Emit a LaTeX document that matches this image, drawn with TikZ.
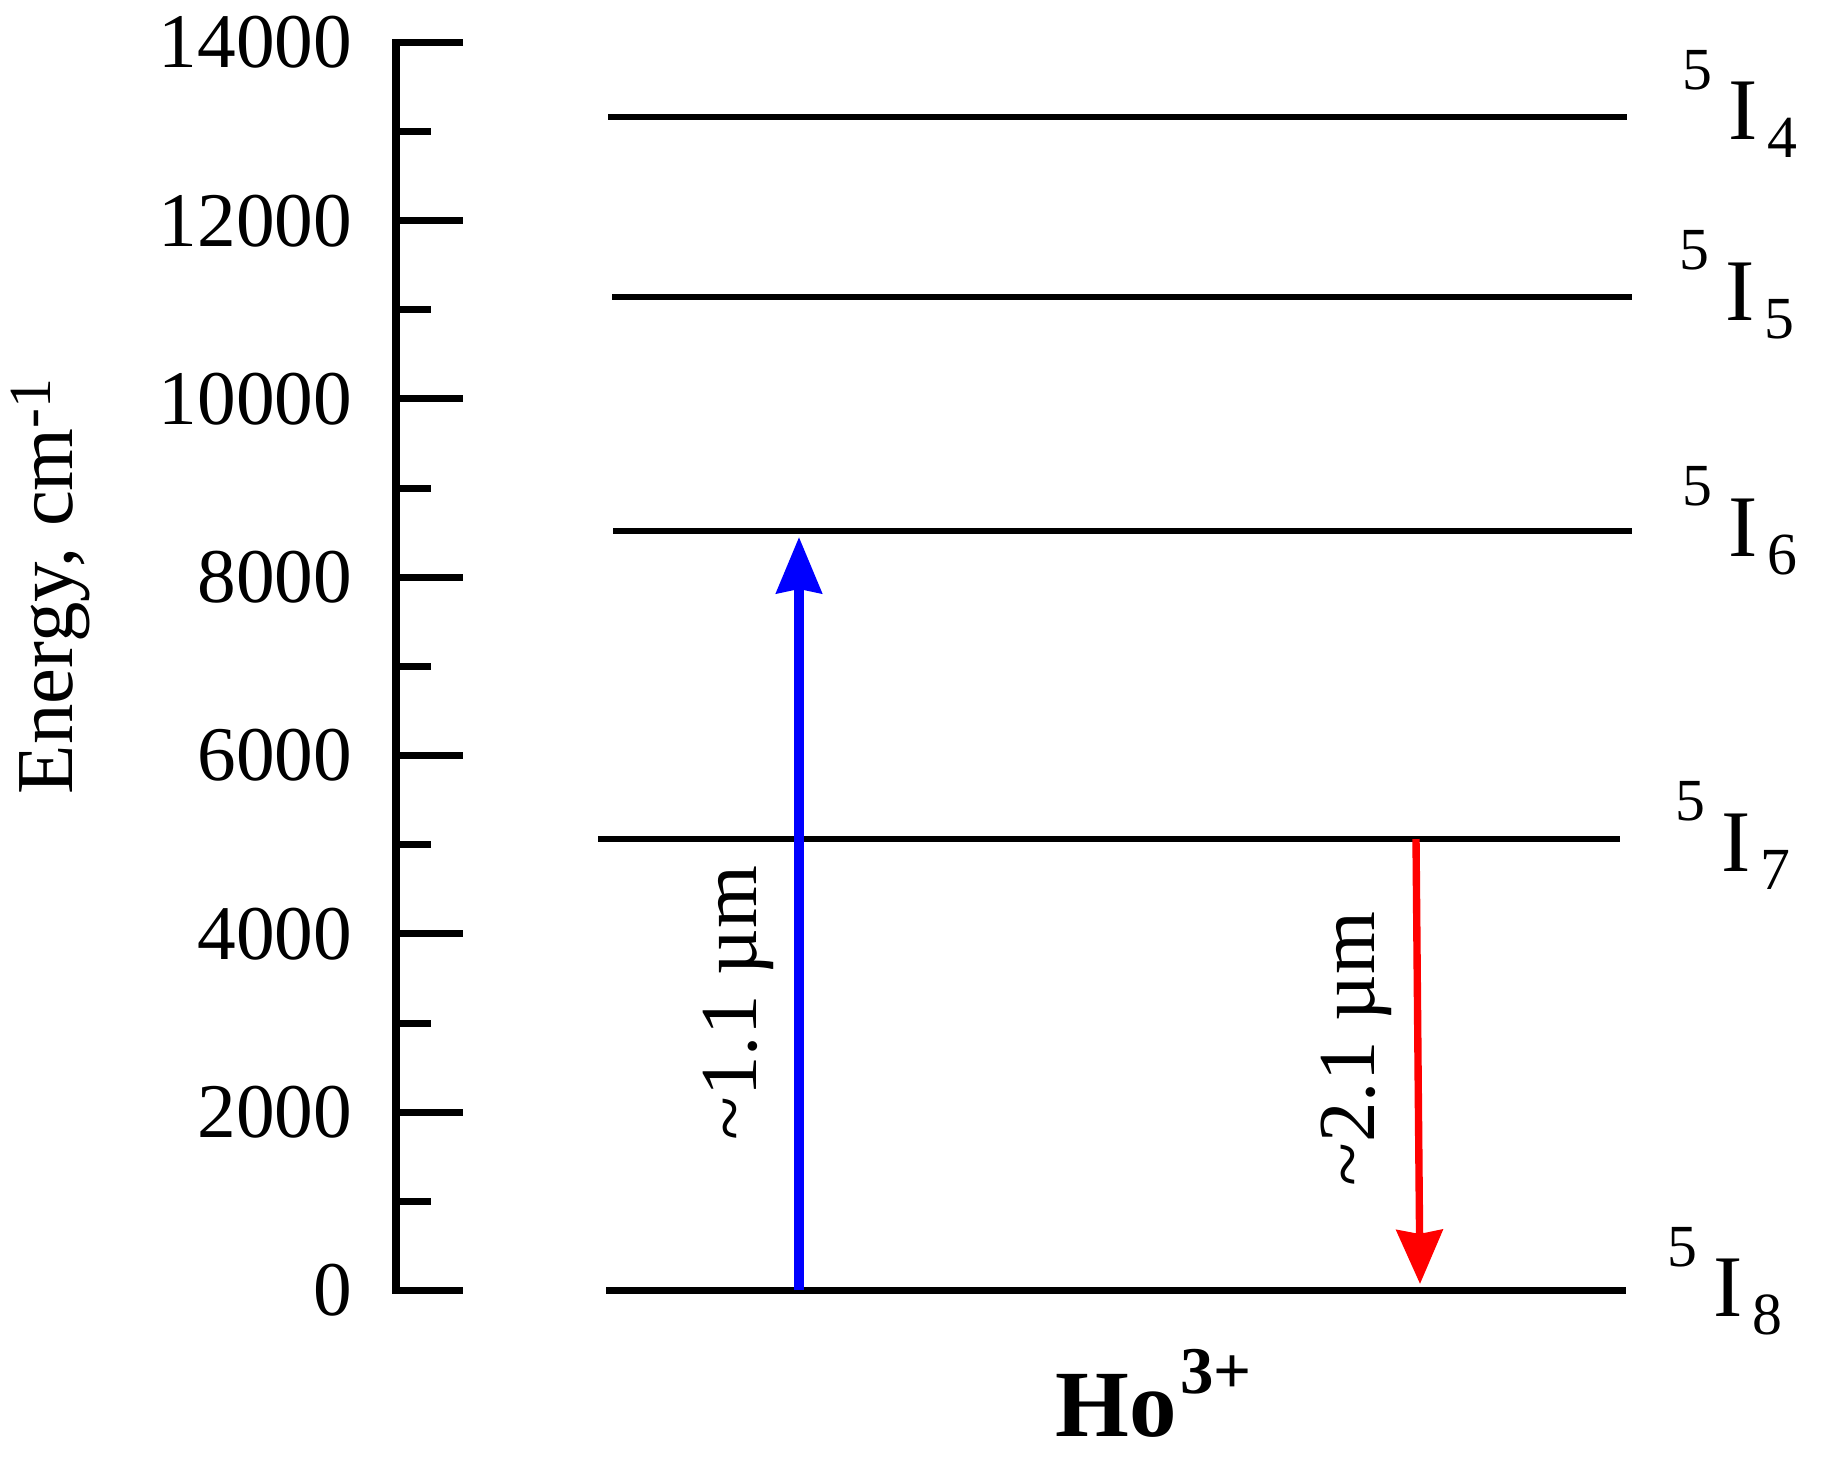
\documentclass[tikz,border=0pt]{standalone}
\usepackage{fontspec}
\setmainfont{Liberation Serif}
\usetikzlibrary{arrows.meta}

\newcommand{\hoterm}[1]{{\fontsize{25pt}{28pt}\selectfont\raisebox{14.5pt}{\fontsize{17pt}{17pt}\selectfont 5}\hspace{4.6pt}I\hspace{2.6pt}\raisebox{-5pt}{\fontsize{17pt}{17pt}\selectfont #1}}}

\begin{document}
\begin{tikzpicture}[>=latex,x=1cm,y=0.8915cm,
  every node/.style={font=\fontsize{22pt}{26pt}\selectfont,inner sep=0pt},
  axisline/.style={line width=2pt},
  levelline/.style={line width=1.8pt},
  pump/.style={blue,line width=2.6pt,-{Stealth[length=0.56cm,width=0.45cm,inset=0.04cm]}},
  emit/.style={red,line width=2.1pt,-{Stealth[length=0.54cm,width=0.46cm,inset=0.04cm]}}]
\useasboundingbox (-3.96cm,-1.685cm) rectangle (14.32cm,12.905cm);
% energy axis
\draw[axisline] (0.67,14) -- (0,14) -- (0,0) -- (0.67,0);
\foreach \e in {2,4,...,12} \draw[axisline] (0,\e) -- (0.67,\e);
\foreach \e in {1,3,...,13} \draw[axisline] (0,\e) -- (0.35,\e);
\foreach \e/\val in {0/0,2/2000,4/4000,6/6000,8/8000,10/10000,12/12000,14/14000}
  \node[anchor=east] (tick\e) at (-0.43,\e) {\val};
\node[rotate=90,anchor=base,font=\fontsize{23pt}{26pt}\selectfont] (elabel) at (-3.23,7.90) {Energy, cm\raisebox{6.5pt}{\fontsize{17pt}{17pt}\selectfont -1}};
% levels
\coordinate (i4l) at (2.12,13.163); \coordinate (i4r) at (12.31,13.163);
\coordinate (i5l) at (2.16,11.144); \coordinate (i5r) at (12.36,11.144);
\coordinate (i6l) at (2.17,8.519);  \coordinate (i6r) at (12.36,8.519);
\coordinate (i7l) at (2.02,5.064);  \coordinate (i7r) at (12.24,5.064);
\coordinate (i8l) at (2.10,0);      \coordinate (i8r) at (12.30,0);
\foreach \j in {4,5,6,7,8} \draw[levelline] (i\j l) -- (i\j r);
\node[anchor=base west] (term4) at (12.86,12.905) {\hoterm{4}};
\node[anchor=base west] (term5) at (12.83,10.88) {\hoterm{5}};
\node[anchor=base west] (term6) at (12.86,8.23) {\hoterm{6}};
\node[anchor=base west] (term7) at (12.79,4.70) {\hoterm{7}};
\node[anchor=base west] (term8) at (12.71,-0.297) {\hoterm{8}};
% transitions
\coordinate (pumpfrom) at (4.03,0);
\coordinate (pumpto) at (4.03,8.452);
\coordinate (emitfrom) at (10.20,5.064);
\coordinate (emitto) at (10.24,0.073);
\draw[pump] (pumpfrom) -- (pumpto);
\draw[emit] (emitfrom) -- (emitto);
\node[rotate=90,anchor=base,font=\fontsize{23pt}{26pt}\selectfont] (pumplabel) at (3.60,3.225) {\textasciitilde1.1 µm};
\node[rotate=90,anchor=base,font=\fontsize{23pt}{26pt}\selectfont] (emitlabel) at (9.78,2.709) {\textasciitilde2.1 µm};
\node[anchor=base west,font=\fontsize{27pt}{30pt}\selectfont\bfseries] (ion) at (6.59,-1.643) {Ho\hspace{1pt}\raisebox{12.5pt}{\fontsize{19pt}{20pt}\selectfont 3+}};
\end{tikzpicture}
\end{document}
